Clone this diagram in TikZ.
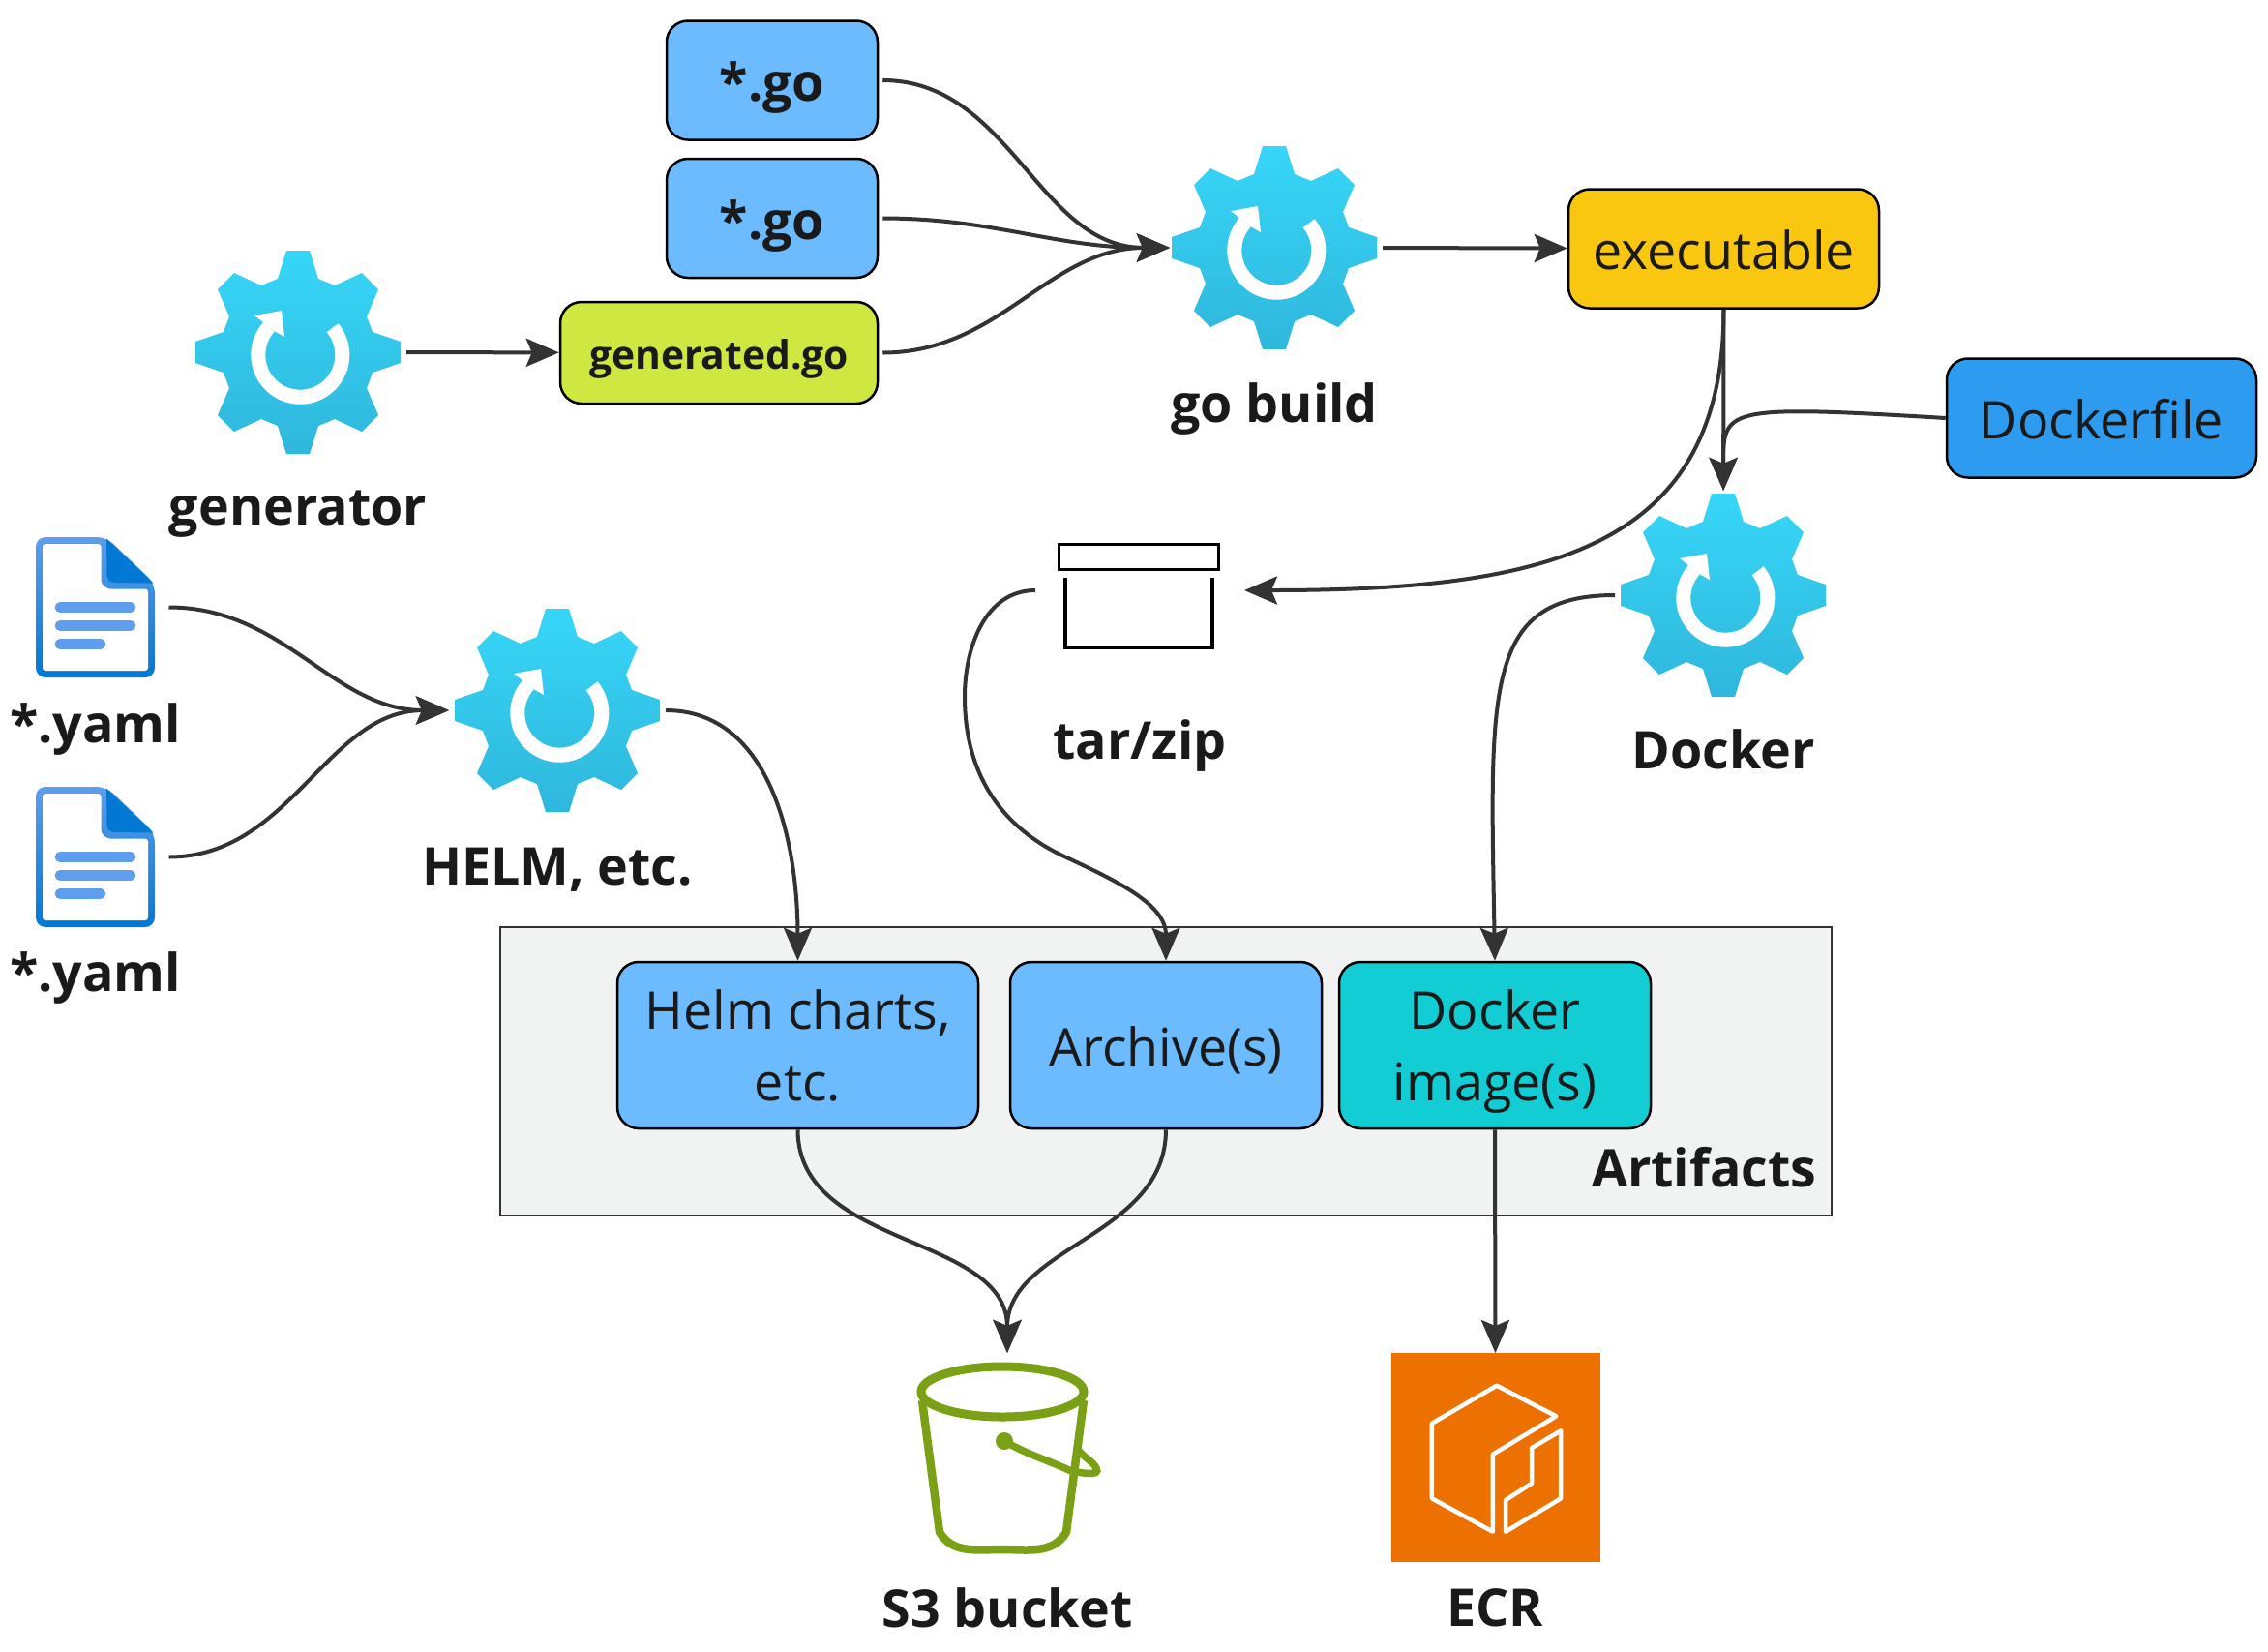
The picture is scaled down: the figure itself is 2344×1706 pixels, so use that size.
\documentclass[tikz,border=0pt]{standalone}
\usepackage{fontspec}
\setmainfont{Open Sans}
\usetikzlibrary{arrows.meta,positioning}
\definecolor{inkdark}{HTML}{1A1A1A}
\definecolor{edgedark}{HTML}{333333}
\definecolor{boxblue}{HTML}{6CBBFF}
\definecolor{boxlime}{HTML}{CEE741}
\definecolor{boxyellow}{HTML}{FAC710}
\definecolor{boxdeep}{HTML}{2D9BF0}
\definecolor{boxteal}{HTML}{12CDD4}
\definecolor{panelgrey}{HTML}{F1F2F2}
\definecolor{gearhi}{HTML}{36D6F8}
\definecolor{gearlo}{HTML}{2FB7DC}
\definecolor{docblue}{HTML}{5E9EEC}
\definecolor{docdeep}{HTML}{0078D4}
\definecolor{bucketgreen}{HTML}{7AA116}
\definecolor{ecrorange}{HTML}{ED7100}
\tikzstyle{block} = [rectangle, draw=black, line width=0.25mm, rounded corners=2.2mm,
text=inkdark, align=center, inner sep=0pt, text depth=0pt, minimum height=12.3mm, font=\fontsize{15.3}{21}\selectfont]
\tikzstyle{oneline} = [text height=12.5pt]
\tikzstyle{icon} = [rectangle, inner sep=0pt, outer sep=0pt, minimum width=21.6mm, minimum height=21.6mm]
\tikzstyle{caption} = [text=inkdark, inner sep=0pt, text depth=0pt, font=\fontsize{15.3}{21}\selectfont\bfseries]
\tikzstyle{line} = [draw=edgedark, line width=0.4mm, -{Stealth[length=3.4mm,width=2.9mm,inset=0.6mm]}]
\tikzstyle{gap} = [shorten <=0.4mm]
\tikzstyle{tipgap} = [shorten >=0.4mm]
\tikzset{
gear/.pic={
\shade [top color=gearhi, bottom color=gearlo] (-12,105) -- (12,105) -- (21,76) -- (38,69) -- (66,82) -- (83,65)
-- (71,37) -- (77,21) -- (106,11) -- (106,-11) -- (77,-21) -- (71,-37) -- (83,-65) -- (66,-82)
-- (38,-69) -- (21,-76) -- (12,-105) -- (-12,-105) -- (-21,-76) -- (-38,-69) -- (-66,-82) -- (-83,-65)
-- (-71,-37) -- (-77,-21) -- (-106,-11) -- (-106,11) -- (-77,21) -- (-71,37) -- (-83,65) -- (-66,82)
-- (-38,69) -- (-21,76) -- cycle;
\draw [white, line width=1.5mm] (2.3,-2.7) ++(40:43.5) arc (40:-222:43.5);
\fill [white] (-45,38) -- (-17,43) -- (-14,16) -- (-23,21) -- cycle;
},
yamldoc/.pic={
\shade [top color=docblue, bottom color=docdeep, rounded corners=1mm] (-61.5,72.5) -- (11.5,72.5) -- (61.5,24.5)
-- (61.5,-72.5) -- (-61.5,-72.5) -- cycle;
\fill [white, rounded corners=0.3mm] (-54.5,65.5) -- (6,65.5) -- (6,30) to [out=-90,in=180] (18,19) -- (54.5,19)
-- (54.5,-65.5) -- (-54.5,-65.5) -- cycle;
\fill [docdeep] (11.5,71) -- (60,25) -- (20,25.5) to [out=180,in=-90] (12,33) -- cycle;
\draw [docblue, line width=1.07mm, line cap=round] (-36.5,0) -- (36.5,0);
\draw [docblue, line width=1.07mm, line cap=round] (-36.5,-19) -- (36.5,-19);
\draw [docblue, line width=1.07mm, line cap=round] (-36.5,-38) -- (5.5,-38);
},
tarbox/.pic={
\draw [black, line width=0.3mm] (-83.5,47.5) rectangle (81.5,21.5);
\draw [black, line width=0.35mm] (-77,13) -- (-77,-59) -- (75,-59) -- (75,13);
},
bucket/.pic={
\draw [bucketgreen, line width=0.9mm] (-5,65) ellipse (84 and 26);
\draw [bucketgreen, line width=0.85mm] (-88,56) -- (-70,-80) to [out=-60,in=180] (-5,-98)
to [out=0,in=240] (61,-80) -- (79,56);
\fill [bucketgreen] (-3,14) circle (9);
\draw [bucketgreen, line width=0.75mm, line cap=round] (-3,14) to [out=-30,in=155] (66,-17)
to [out=-10,in=-60] (92,-14) to [out=120,in=-50] (75,3);
},
ecrmark/.pic={
\draw [white, line width=0.45mm, line join=round] (1.3,74.3) -- (62.8,42.7) -- (-2.6,3.3) -- (-2.6,-76.7)
-- (-65.6,-42.3) -- (-65.6,35.3) -- cycle;
\draw [white, line width=0.45mm, line join=round] (67.7,27.7) -- (37.6,10) -- (37.6,-26.7) -- (10.5,-44)
-- (10.5,-76.7) -- (67.7,-42.3) -- cycle;
}}

\begin{document}
\begin{tikzpicture}[x=0.1mm, y=0.1mm]
\useasboundingbox (0,0) rectangle (2344,-1706);
% Place nodes
\node [draw=edgedark, fill=panelgrey, line width=0.2mm, minimum width=137.6mm, minimum height=29.8mm] (artifacts) at (1205,-1107) {};
\node [caption, anchor=east] (artifactslbl) at (1878,-1206) {Artifacts};

\node [block, oneline, fill=boxblue, minimum width=21.8mm, font=\fontsize{15.3}{21}\selectfont\bfseries] (go1) at (798,-83) {*.go};
\node [block, oneline, fill=boxblue, minimum width=21.8mm, font=\fontsize{15.3}{21}\selectfont\bfseries, below of=go1, node distance=14.25mm] (go2) {*.go};
\node [block, fill=boxlime, minimum width=32.8mm, minimum height=10.5mm, text height=9.5pt, font=\fontsize{11.6}{21}\selectfont\bfseries] (generated) at (743,-364.5) {generated.go};
\node [block, oneline, fill=boxyellow, minimum width=32.1mm] (executable) at (1781.5,-257) {executable};
\node [block, oneline, fill=boxdeep, minimum width=32mm] (dockerfile) at (2172,-432) {Dockerfile};
\node [block, fill=boxblue, minimum width=37.3mm, minimum height=17.2mm] (helmcharts) at (824.5,-1080) {Helm charts,\\etc.};
\node [block, oneline, fill=boxblue, minimum width=32.2mm, minimum height=17.2mm] (archives) at (1205,-1080) {Archive(s)};
\node [block, fill=boxteal, minimum width=32.2mm, minimum height=17.2mm] (dockerimg) at (1545,-1080) {Docker\\image(s)};

\node [icon] (generator) at (308,-364) {};
\pic at (generator) {gear};
\node [caption, below of=generator, node distance=16.1mm] (generatorlbl) {generator};
\node [icon] (gobuild) at (1317,-256) {};
\pic at (gobuild) {gear};
\node [caption, below of=gobuild, node distance=16.05mm] (gobuildlbl) {go build};
\node [icon] (helm) at (576,-734) {};
\pic at (helm) {gear};
\node [caption, below of=helm, node distance=16.1mm] (helmlbl) {HELM, etc.};
\node [icon] (docker) at (1781,-615) {};
\pic at (docker) {gear};
\node [caption, below of=docker, node distance=15.9mm] (dockerlbl) {Docker};
\node [icon] (tar) at (1178,-610) {};
\pic at (tar) {tarbox};
\node [caption, below of=tar, node distance=15.45mm] (tarlbl) {tar/zip};

\node [icon, minimum width=14.4mm, minimum height=14.5mm] (yaml1) at (98.5,-627.5) {};
\pic at (yaml1) {yamldoc};
\node [caption, below of=yaml1, node distance=11.95mm] (yaml1lbl) {*.yaml};
\node [icon, minimum width=14.4mm, minimum height=14.5mm, below of=yaml1, node distance=25.8mm] (yaml2) {};
\pic at (yaml2) {yamldoc};
\node [caption, below of=yaml2, node distance=11.85mm] (yaml2lbl) {*.yaml};

\node [icon, minimum height=21mm] (s3) at (1041,-1503) {};
\pic at (s3) {bucket};
\node [caption, below of=s3, node distance=15.8mm] (s3lbl) {S3 bucket};
\node [icon, fill=ecrorange] (ecr) at (1545.5,-1506) {};
\pic at (ecr) {ecrmark};
\node [caption, below of=ecr, node distance=15.5mm] (ecrlbl) {ECR};

% Draw edges
\path [line, gap] (go1) to [out=0,in=180] (gobuild.west);
\path [line, gap] (go2) to [out=0,in=180] (gobuild.west);
\path [line, gap] (generated) to [out=0,in=180] (gobuild.west);
\path [line, gap] (generator) -- (generated);
\path [line, gap] (gobuild.east) -- (executable);
\path [line] (executable) -- (docker);
\path [line] (dockerfile.west) .. controls +(-230,14) and +(0,85) .. (docker.north);
\path [line] (executable.south) to [out=-90,in=0,out looseness=1.1,in looseness=1.4] (tar.east);
\path [line] (tar.west) to [out=180,in=90] ++(-73,-110) coordinate (tarbend1) to [out=-90,in=155] (1100,-885) coordinate (tarbend2) to [out=-25,in=90] (archives.north);
\path [line, gap] (docker.west) .. controls +(-140,0) and +(-5,280) .. (dockerimg.north);
\path [line, gap, tipgap] (yaml1.east) to [out=0,in=180] (helm.west);
\path [line, gap, tipgap] (yaml2.east) to [out=0,in=180] (helm.west);
\path [line, gap] (helm.east) to [out=0,in=90] (helmcharts.north);
\path [line] (helmcharts.south) to [out=-90,in=90] (s3.north);
\path [line] (archives.south) to [out=-90,in=90] (s3.north);
\path [line] (dockerimg.south) -- (ecr.north);
\end{tikzpicture}
\end{document}
